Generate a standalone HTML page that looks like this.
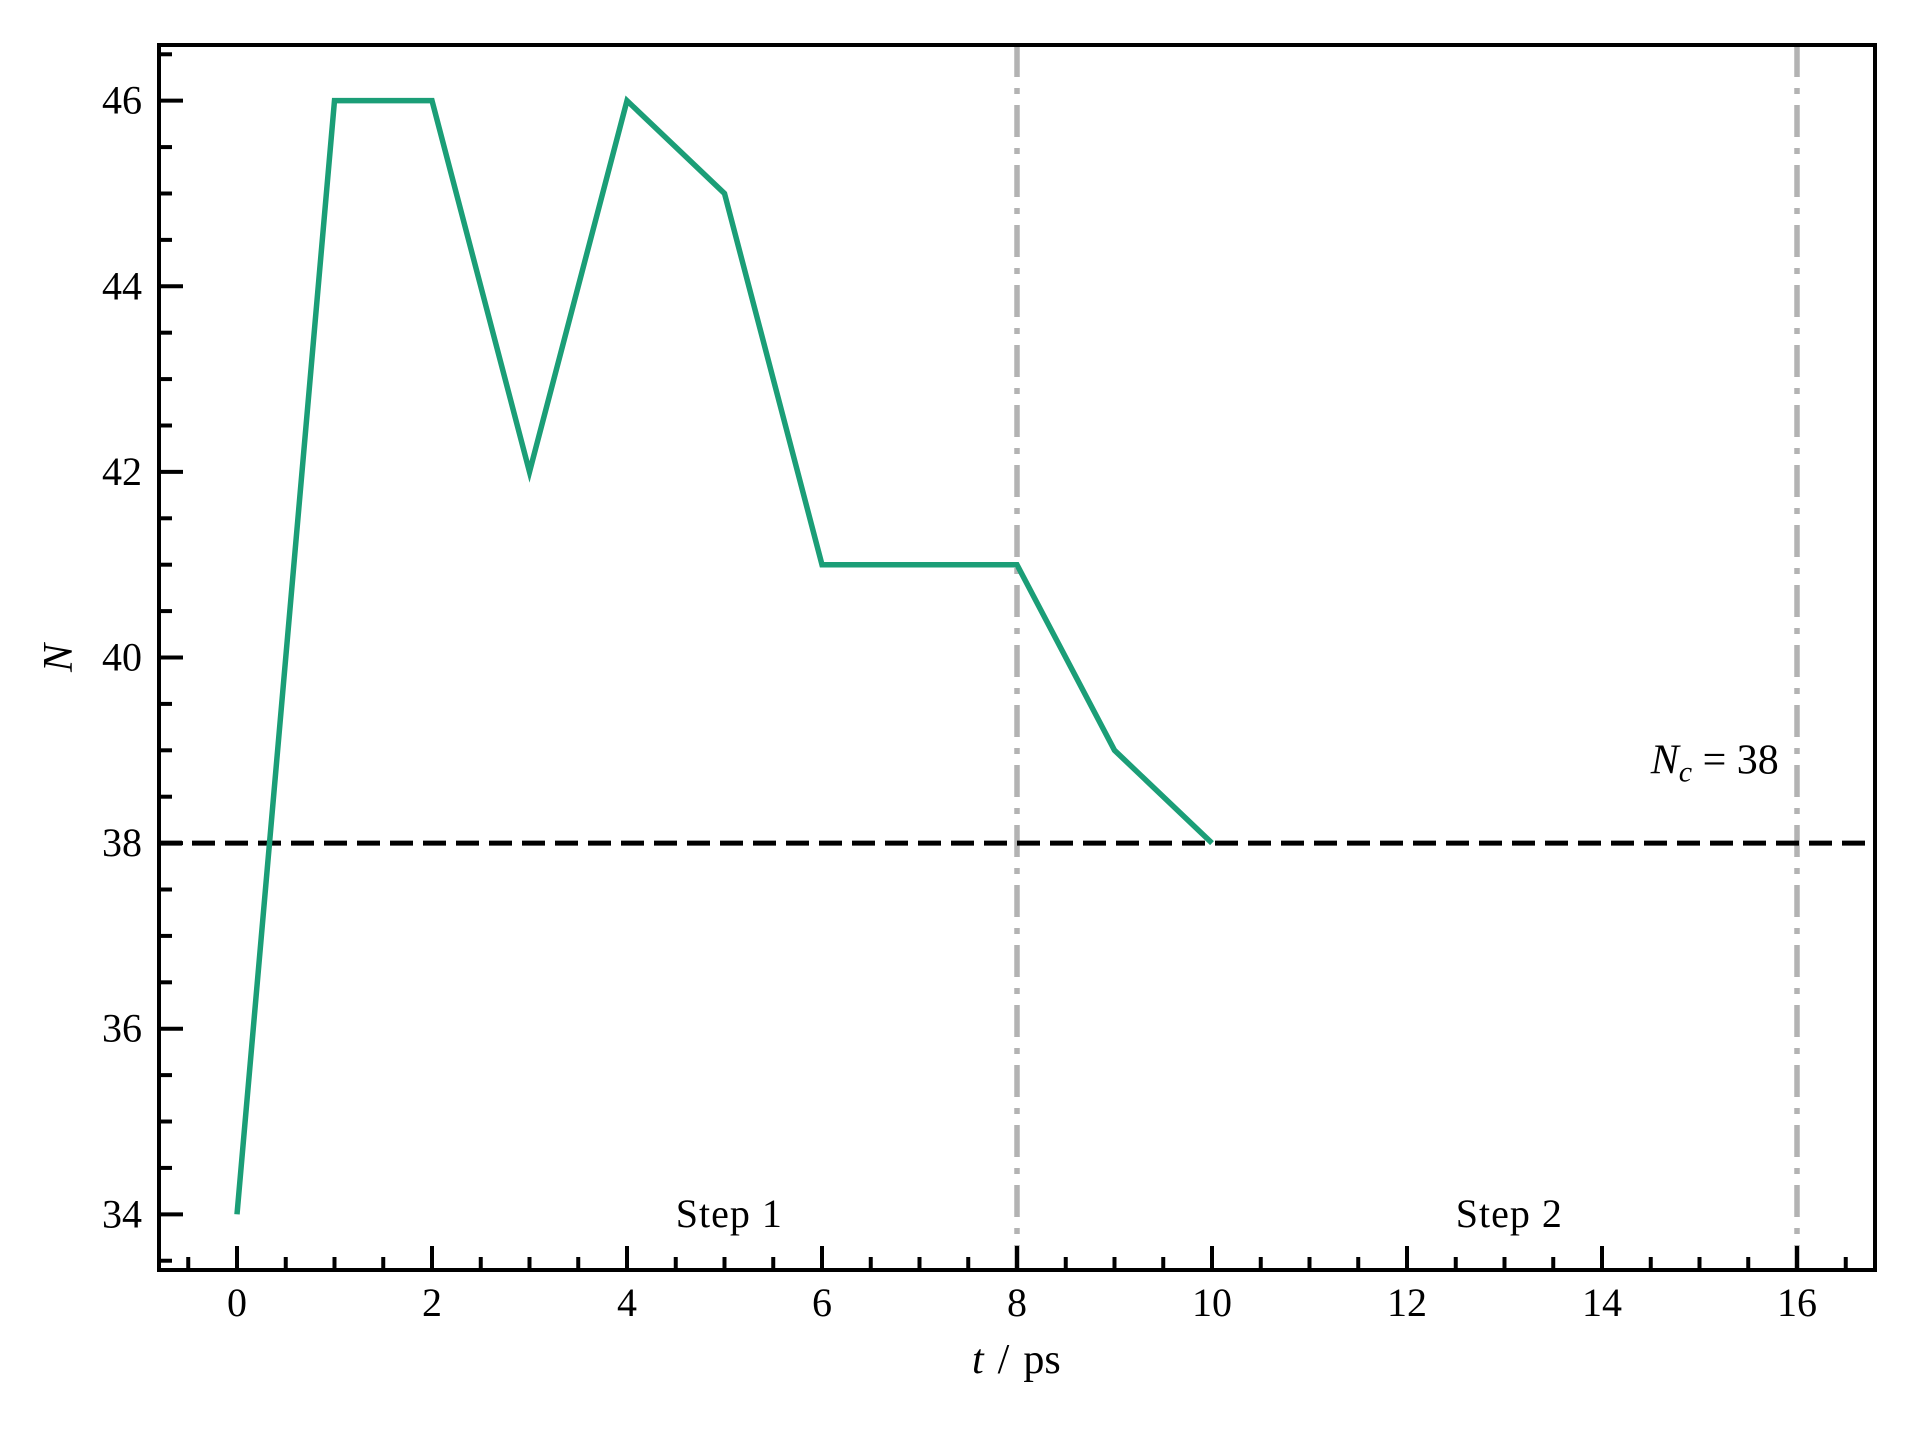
<!DOCTYPE html>
<html><head><meta charset="utf-8"><style>
html,body{margin:0;padding:0;background:#fff}
svg{display:block}
text{font-family:"Liberation Serif",serif;fill:#000}
</style></head><body>
<svg id="chart" width="1920" height="1440" viewBox="0 0 1920 1440" xmlns="http://www.w3.org/2000/svg">
<g id="plot"></g>
</svg>
<script>
const times = [0,1,2,3,4,5,6,7,8,9,10];
const counts = [34,46,46,42,46,45,41,41,41,39,38];
const xTicks = [0,2,4,6,8,10,12,14,16];
const yTicks = [34,36,38,40,42,44,46];
const stepBounds = [8,16];
const threshold = [38];

const L=159,R=1875,T=45,B=1270;
const xmin=-0.8,xmax=16.8,ymin=33.4,ymax=46.6;
const sx=v=>L+(v-xmin)/(xmax-xmin)*(R-L);
const sy=v=>B-(v-ymin)/(ymax-ymin)*(B-T);
const NS="http://www.w3.org/2000/svg";
const g=document.getElementById('plot');
function mk(tag,attrs,parent){const e=document.createElementNS(NS,tag);for(const k in attrs)e.setAttribute(k,attrs[k]);(parent||g).appendChild(e);return e;}

stepBounds.forEach((v,i)=>{
  const l=mk('line',{x1:sx(v),x2:sx(v),y1:T,y2:B,stroke:'#b3b3b3','stroke-width':5.5,'stroke-dasharray':'32 11 6 11'});
  
  
});
threshold.forEach(v=>{
  const l=mk('line',{x1:L,x2:R,y1:sy(v),y2:sy(v),stroke:'#000','stroke-width':5,'stroke-dasharray':'23 10'});
  
  
});
const pts=times.map((t,i)=>sx(t)+','+sy(counts[i])).join(' ');
const pl=mk('polyline',{points:pts,fill:'none',stroke:'#1b9e77','stroke-width':5.5,'stroke-linejoin':'miter'});



for(let v=-0.5;v<=16.5+1e-9;v+=0.5){
  if(Math.abs(v-Math.round(v/2)*2)<1e-9)continue;
  const t=mk('line',{x1:sx(v),x2:sx(v),y1:B,y2:B-13,stroke:'#000','stroke-width':4});
  
  
}
for(let v=33.5;v<=46.5+1e-9;v+=0.5){
  if(Math.abs(v-Math.round(v/2)*2)<1e-9)continue;
  const t=mk('line',{x1:L,x2:L+13,y1:sy(v),y2:sy(v),stroke:'#000','stroke-width':4});
  
  
}
xTicks.forEach(v=>{
  const t=mk('line',{x1:sx(v),x2:sx(v),y1:B,y2:B-24,stroke:'#000','stroke-width':4});
  
  
  const s=mk('text',{x:sx(v),y:1316,'font-size':40,'text-anchor':'middle'});
  s.textContent=v;
  
  
});
yTicks.forEach(v=>{
  const t=mk('line',{x1:L,x2:L+24,y1:sy(v),y2:sy(v),stroke:'#000','stroke-width':4});
  
  
  const s=mk('text',{x:142,y:sy(v)+13,'font-size':40,'text-anchor':'end'});
  s.textContent=v;
  
  
});
const fr=mk('rect',{x:L,y:T,width:R-L,height:B-T,fill:'none',stroke:'#000','stroke-width':4});



const s1=mk('text',{x:sx(4.5),y:1227,'font-size':40,'letter-spacing':'1'});s1.textContent='Step 1';


const s2=mk('text',{x:sx(12.5),y:1227,'font-size':40,'letter-spacing':'1'});s2.textContent='Step 2';


const nc=mk('text',{x:sx(14.5),y:sy(38.9)+14,'font-size':42});
nc.innerHTML='<tspan font-style="italic">N</tspan><tspan font-style="italic" font-size="30" dy="8">c</tspan><tspan dy="-8"> = 38</tspan>';


const xl=mk('text',{x:972,y:1373,'font-size':42});
xl.innerHTML='<tspan font-style="italic">t</tspan><tspan dx="14">/</tspan><tspan dx="14">ps</tspan>';


const yl=mk('text',{x:0,y:0,'font-size':42,'text-anchor':'middle','font-style':'italic',transform:'translate(72,658) rotate(-90)'});
yl.textContent='N';


</script>
</body></html>
